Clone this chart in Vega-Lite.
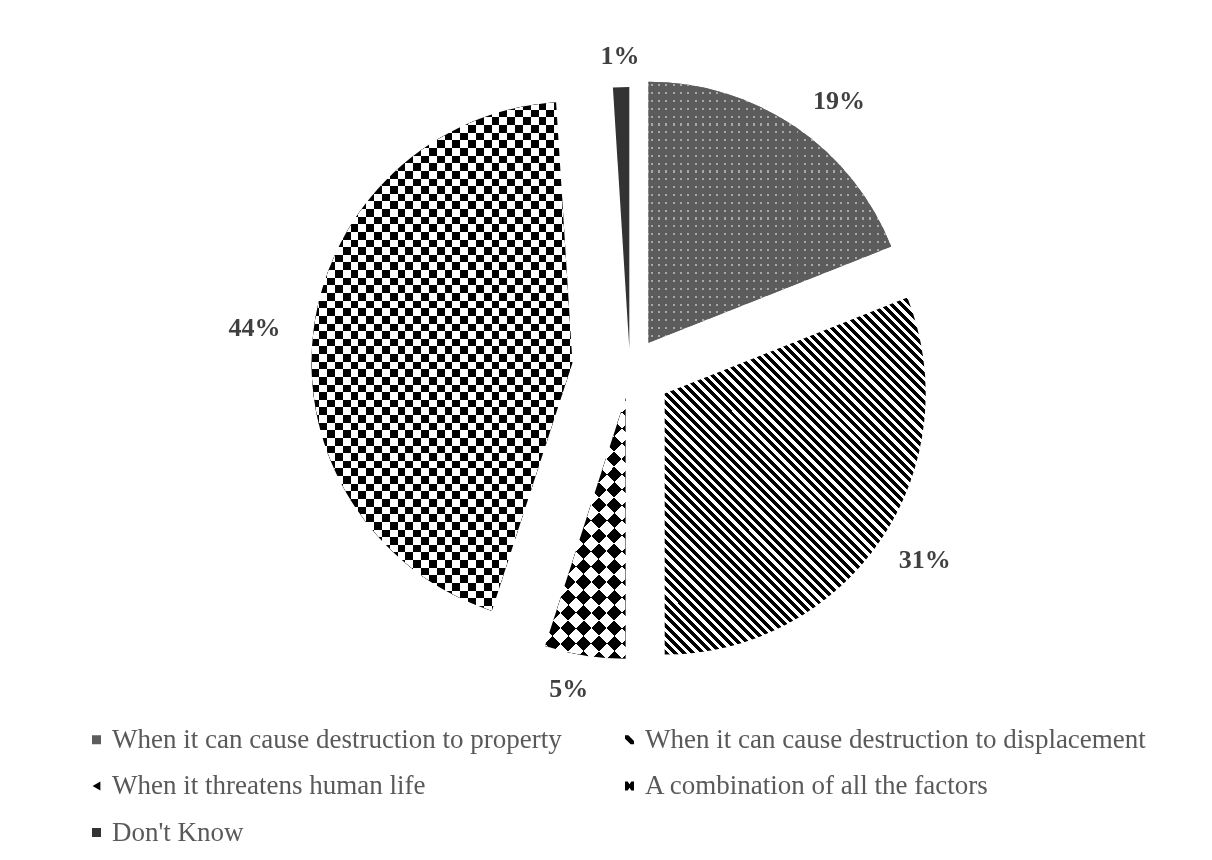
{
  "$schema": "https://vega.github.io/schema/vega-lite/v6.json",
  "width": 1203,
  "height": 849,
  "autosize": {"type": "none"},
  "padding": {"left": 9, "top": 11, "right": 0, "bottom": 0},
  "background": "#ffffff",
  "config": {"view": {"stroke": "#d9d9d9", "strokeWidth": 2, "strokeDash": [1203, 2052, 849]}},
  "data": {
    "values": [
      {"k": 1, "label": "When it can cause destruction to property", "share": 0.19},
      {"k": 2, "label": "When it can cause destruction to displacement", "share": 0.31},
      {"k": 3, "label": "When it threatens human life", "share": 0.05},
      {"k": 4, "label": "A combination of all the factors", "share": 0.44},
      {"k": 5, "label": "Don't Know", "share": 0.01}
    ]
  },
  "transform": [
    {"stack": "share", "groupby": [], "sort": [{"field": "k", "order": "ascending"}], "as": ["t0", "t1"]}
  ],
  "layer": [
    {
      "encoding": {
        "theta": {"field": "t0", "type": "quantitative", "scale": {"domain": [0, 1]}},
        "theta2": {"field": "t1"},
        "fill": {
          "field": "label",
          "type": "nominal",
          "scale": {
            "domain": ["When it can cause destruction to property", "When it can cause destruction to displacement", "When it threatens human life", "A combination of all the factors", "Don't Know"],
            "range": ["#5c5c5c", "#000000", "#000000", "#000000", "#333333"]
          },
          "legend": {
            "title": null,
            "orient": "none",
            "direction": "horizontal",
            "legendX": 74,
            "legendY": 715,
            "columns": 2,
            "columnPadding": 54,
            "rowPadding": 18.5,
            "padding": 0,
            "symbolType": "square",
            "symbolSize": 81,
            "symbolStrokeWidth": 0,
            "symbolOpacity": 1,
            "labelFont": "Liberation Serif",
            "labelFontSize": 27,
            "labelColor": "#595959",
            "labelOffset": 2,
            "labelLimit": 1000,
            "encode": {
              "symbols": {
                "update": {
                  "shape": {"signal": "datum.value === 'When it can cause destruction to displacement' ? 'M-1,-1L-0.25,-1L1,0.25L1,1L0.25,1L-1,-0.25Z' : datum.value === 'When it threatens human life' ? 'triangle-left' : datum.value === 'A combination of all the factors' ? 'M-1,-1L-0.4,-1L0,-0.4L0.4,-1L1,-1L1,1L0.4,1L0,0.4L-0.4,1L-1,1Z' : 'square'"}
                }
              }
            }
          }
        }
      },
      "layer": [
        {
          "transform": [{"filter": "datum.k === 1"}],
          "mark": {"type": "arc", "radius": 261, "xOffset": 38, "yOffset": -92.8}
        },
        {
          "transform": [{"filter": "datum.k === 1"}],
          "mark": {"type": "arc", "radius": 261, "xOffset": 38, "yOffset": -92.8},
          "encoding": {
            "fill": {"value": {"gradient": "linear", "x1": 0, "y1": 0, "x2": 1, "y2": 0, "stops": [
              {"offset": 0, "color": "transparent"},
              {"offset": 0.01, "color": "transparent"}, {"offset": 0.01, "color": "#a8a8a8"}, {"offset": 0.018, "color": "#a8a8a8"}, {"offset": 0.018, "color": "transparent"},
              {"offset": 0.04, "color": "transparent"}, {"offset": 0.04, "color": "#a8a8a8"}, {"offset": 0.048, "color": "#a8a8a8"}, {"offset": 0.048, "color": "transparent"},
              {"offset": 0.07, "color": "transparent"}, {"offset": 0.07, "color": "#a8a8a8"}, {"offset": 0.078, "color": "#a8a8a8"}, {"offset": 0.078, "color": "transparent"},
              {"offset": 0.1, "color": "transparent"}, {"offset": 0.1, "color": "#a8a8a8"}, {"offset": 0.108, "color": "#a8a8a8"}, {"offset": 0.108, "color": "transparent"},
              {"offset": 0.13, "color": "transparent"}, {"offset": 0.13, "color": "#a8a8a8"}, {"offset": 0.138, "color": "#a8a8a8"}, {"offset": 0.138, "color": "transparent"},
              {"offset": 0.16, "color": "transparent"}, {"offset": 0.16, "color": "#a8a8a8"}, {"offset": 0.168, "color": "#a8a8a8"}, {"offset": 0.168, "color": "transparent"},
              {"offset": 0.19, "color": "transparent"}, {"offset": 0.19, "color": "#a8a8a8"}, {"offset": 0.198, "color": "#a8a8a8"}, {"offset": 0.198, "color": "transparent"},
              {"offset": 0.22, "color": "transparent"}, {"offset": 0.22, "color": "#a8a8a8"}, {"offset": 0.228, "color": "#a8a8a8"}, {"offset": 0.228, "color": "transparent"},
              {"offset": 0.25, "color": "transparent"}, {"offset": 0.25, "color": "#a8a8a8"}, {"offset": 0.258, "color": "#a8a8a8"}, {"offset": 0.258, "color": "transparent"},
              {"offset": 0.28, "color": "transparent"}, {"offset": 0.28, "color": "#a8a8a8"}, {"offset": 0.288, "color": "#a8a8a8"}, {"offset": 0.288, "color": "transparent"},
              {"offset": 0.31, "color": "transparent"}, {"offset": 0.31, "color": "#a8a8a8"}, {"offset": 0.318, "color": "#a8a8a8"}, {"offset": 0.318, "color": "transparent"},
              {"offset": 0.34, "color": "transparent"}, {"offset": 0.34, "color": "#a8a8a8"}, {"offset": 0.348, "color": "#a8a8a8"}, {"offset": 0.348, "color": "transparent"},
              {"offset": 0.37, "color": "transparent"}, {"offset": 0.37, "color": "#a8a8a8"}, {"offset": 0.378, "color": "#a8a8a8"}, {"offset": 0.378, "color": "transparent"},
              {"offset": 0.4, "color": "transparent"}, {"offset": 0.4, "color": "#a8a8a8"}, {"offset": 0.408, "color": "#a8a8a8"}, {"offset": 0.408, "color": "transparent"},
              {"offset": 0.43, "color": "transparent"}, {"offset": 0.43, "color": "#a8a8a8"}, {"offset": 0.438, "color": "#a8a8a8"}, {"offset": 0.438, "color": "transparent"},
              {"offset": 0.46, "color": "transparent"}, {"offset": 0.46, "color": "#a8a8a8"}, {"offset": 0.468, "color": "#a8a8a8"}, {"offset": 0.468, "color": "transparent"},
              {"offset": 0.49, "color": "transparent"}, {"offset": 0.49, "color": "#a8a8a8"}, {"offset": 0.498, "color": "#a8a8a8"}, {"offset": 0.498, "color": "transparent"},
              {"offset": 0.52, "color": "transparent"}, {"offset": 0.52, "color": "#a8a8a8"}, {"offset": 0.528, "color": "#a8a8a8"}, {"offset": 0.528, "color": "transparent"},
              {"offset": 0.55, "color": "transparent"}, {"offset": 0.55, "color": "#a8a8a8"}, {"offset": 0.558, "color": "#a8a8a8"}, {"offset": 0.558, "color": "transparent"},
              {"offset": 0.58, "color": "transparent"}, {"offset": 0.58, "color": "#a8a8a8"}, {"offset": 0.588, "color": "#a8a8a8"}, {"offset": 0.588, "color": "transparent"},
              {"offset": 0.61, "color": "transparent"}, {"offset": 0.61, "color": "#a8a8a8"}, {"offset": 0.618, "color": "#a8a8a8"}, {"offset": 0.618, "color": "transparent"},
              {"offset": 0.64, "color": "transparent"}, {"offset": 0.64, "color": "#a8a8a8"}, {"offset": 0.648, "color": "#a8a8a8"}, {"offset": 0.648, "color": "transparent"},
              {"offset": 0.67, "color": "transparent"}, {"offset": 0.67, "color": "#a8a8a8"}, {"offset": 0.678, "color": "#a8a8a8"}, {"offset": 0.678, "color": "transparent"},
              {"offset": 0.7, "color": "transparent"}, {"offset": 0.7, "color": "#a8a8a8"}, {"offset": 0.708, "color": "#a8a8a8"}, {"offset": 0.708, "color": "transparent"},
              {"offset": 0.73, "color": "transparent"}, {"offset": 0.73, "color": "#a8a8a8"}, {"offset": 0.738, "color": "#a8a8a8"}, {"offset": 0.738, "color": "transparent"},
              {"offset": 0.76, "color": "transparent"}, {"offset": 0.76, "color": "#a8a8a8"}, {"offset": 0.768, "color": "#a8a8a8"}, {"offset": 0.768, "color": "transparent"},
              {"offset": 0.79, "color": "transparent"}, {"offset": 0.79, "color": "#a8a8a8"}, {"offset": 0.798, "color": "#a8a8a8"}, {"offset": 0.798, "color": "transparent"},
              {"offset": 0.82, "color": "transparent"}, {"offset": 0.82, "color": "#a8a8a8"}, {"offset": 0.828, "color": "#a8a8a8"}, {"offset": 0.828, "color": "transparent"},
              {"offset": 0.85, "color": "transparent"}, {"offset": 0.85, "color": "#a8a8a8"}, {"offset": 0.858, "color": "#a8a8a8"}, {"offset": 0.858, "color": "transparent"},
              {"offset": 0.88, "color": "transparent"}, {"offset": 0.88, "color": "#a8a8a8"}, {"offset": 0.888, "color": "#a8a8a8"}, {"offset": 0.888, "color": "transparent"},
              {"offset": 0.91, "color": "transparent"}, {"offset": 0.91, "color": "#a8a8a8"}, {"offset": 0.918, "color": "#a8a8a8"}, {"offset": 0.918, "color": "transparent"},
              {"offset": 0.94, "color": "transparent"}, {"offset": 0.94, "color": "#a8a8a8"}, {"offset": 0.948, "color": "#a8a8a8"}, {"offset": 0.948, "color": "transparent"},
              {"offset": 0.97, "color": "transparent"}, {"offset": 0.97, "color": "#a8a8a8"}, {"offset": 0.978, "color": "#a8a8a8"}, {"offset": 0.978, "color": "transparent"},
              {"offset": 1, "color": "transparent"}
            ]}}
          }
        },
        {
          "transform": [{"filter": "datum.k === 1"}],
          "mark": {"type": "arc", "radius": 261, "xOffset": 38, "yOffset": -92.8},
          "encoding": {
            "fill": {"value": {"gradient": "linear", "x1": 0, "y1": 0, "x2": 0, "y2": 1, "stops": [
              {"offset": 0, "color": "#5c5c5c"},
              {"offset": 0.01, "color": "#5c5c5c"}, {"offset": 0.01, "color": "transparent"}, {"offset": 0.018, "color": "transparent"}, {"offset": 0.018, "color": "#5c5c5c"},
              {"offset": 0.04, "color": "#5c5c5c"}, {"offset": 0.04, "color": "transparent"}, {"offset": 0.048, "color": "transparent"}, {"offset": 0.048, "color": "#5c5c5c"},
              {"offset": 0.07, "color": "#5c5c5c"}, {"offset": 0.07, "color": "transparent"}, {"offset": 0.078, "color": "transparent"}, {"offset": 0.078, "color": "#5c5c5c"},
              {"offset": 0.1, "color": "#5c5c5c"}, {"offset": 0.1, "color": "transparent"}, {"offset": 0.108, "color": "transparent"}, {"offset": 0.108, "color": "#5c5c5c"},
              {"offset": 0.13, "color": "#5c5c5c"}, {"offset": 0.13, "color": "transparent"}, {"offset": 0.138, "color": "transparent"}, {"offset": 0.138, "color": "#5c5c5c"},
              {"offset": 0.16, "color": "#5c5c5c"}, {"offset": 0.16, "color": "transparent"}, {"offset": 0.168, "color": "transparent"}, {"offset": 0.168, "color": "#5c5c5c"},
              {"offset": 0.19, "color": "#5c5c5c"}, {"offset": 0.19, "color": "transparent"}, {"offset": 0.198, "color": "transparent"}, {"offset": 0.198, "color": "#5c5c5c"},
              {"offset": 0.22, "color": "#5c5c5c"}, {"offset": 0.22, "color": "transparent"}, {"offset": 0.228, "color": "transparent"}, {"offset": 0.228, "color": "#5c5c5c"},
              {"offset": 0.25, "color": "#5c5c5c"}, {"offset": 0.25, "color": "transparent"}, {"offset": 0.258, "color": "transparent"}, {"offset": 0.258, "color": "#5c5c5c"},
              {"offset": 0.28, "color": "#5c5c5c"}, {"offset": 0.28, "color": "transparent"}, {"offset": 0.288, "color": "transparent"}, {"offset": 0.288, "color": "#5c5c5c"},
              {"offset": 0.31, "color": "#5c5c5c"}, {"offset": 0.31, "color": "transparent"}, {"offset": 0.318, "color": "transparent"}, {"offset": 0.318, "color": "#5c5c5c"},
              {"offset": 0.34, "color": "#5c5c5c"}, {"offset": 0.34, "color": "transparent"}, {"offset": 0.348, "color": "transparent"}, {"offset": 0.348, "color": "#5c5c5c"},
              {"offset": 0.37, "color": "#5c5c5c"}, {"offset": 0.37, "color": "transparent"}, {"offset": 0.378, "color": "transparent"}, {"offset": 0.378, "color": "#5c5c5c"},
              {"offset": 0.4, "color": "#5c5c5c"}, {"offset": 0.4, "color": "transparent"}, {"offset": 0.408, "color": "transparent"}, {"offset": 0.408, "color": "#5c5c5c"},
              {"offset": 0.43, "color": "#5c5c5c"}, {"offset": 0.43, "color": "transparent"}, {"offset": 0.438, "color": "transparent"}, {"offset": 0.438, "color": "#5c5c5c"},
              {"offset": 0.46, "color": "#5c5c5c"}, {"offset": 0.46, "color": "transparent"}, {"offset": 0.468, "color": "transparent"}, {"offset": 0.468, "color": "#5c5c5c"},
              {"offset": 0.49, "color": "#5c5c5c"}, {"offset": 0.49, "color": "transparent"}, {"offset": 0.498, "color": "transparent"}, {"offset": 0.498, "color": "#5c5c5c"},
              {"offset": 0.52, "color": "#5c5c5c"}, {"offset": 0.52, "color": "transparent"}, {"offset": 0.528, "color": "transparent"}, {"offset": 0.528, "color": "#5c5c5c"},
              {"offset": 0.55, "color": "#5c5c5c"}, {"offset": 0.55, "color": "transparent"}, {"offset": 0.558, "color": "transparent"}, {"offset": 0.558, "color": "#5c5c5c"},
              {"offset": 0.58, "color": "#5c5c5c"}, {"offset": 0.58, "color": "transparent"}, {"offset": 0.588, "color": "transparent"}, {"offset": 0.588, "color": "#5c5c5c"},
              {"offset": 0.61, "color": "#5c5c5c"}, {"offset": 0.61, "color": "transparent"}, {"offset": 0.618, "color": "transparent"}, {"offset": 0.618, "color": "#5c5c5c"},
              {"offset": 0.64, "color": "#5c5c5c"}, {"offset": 0.64, "color": "transparent"}, {"offset": 0.648, "color": "transparent"}, {"offset": 0.648, "color": "#5c5c5c"},
              {"offset": 0.67, "color": "#5c5c5c"}, {"offset": 0.67, "color": "transparent"}, {"offset": 0.678, "color": "transparent"}, {"offset": 0.678, "color": "#5c5c5c"},
              {"offset": 0.7, "color": "#5c5c5c"}, {"offset": 0.7, "color": "transparent"}, {"offset": 0.708, "color": "transparent"}, {"offset": 0.708, "color": "#5c5c5c"},
              {"offset": 0.73, "color": "#5c5c5c"}, {"offset": 0.73, "color": "transparent"}, {"offset": 0.738, "color": "transparent"}, {"offset": 0.738, "color": "#5c5c5c"},
              {"offset": 0.76, "color": "#5c5c5c"}, {"offset": 0.76, "color": "transparent"}, {"offset": 0.768, "color": "transparent"}, {"offset": 0.768, "color": "#5c5c5c"},
              {"offset": 0.79, "color": "#5c5c5c"}, {"offset": 0.79, "color": "transparent"}, {"offset": 0.798, "color": "transparent"}, {"offset": 0.798, "color": "#5c5c5c"},
              {"offset": 0.82, "color": "#5c5c5c"}, {"offset": 0.82, "color": "transparent"}, {"offset": 0.828, "color": "transparent"}, {"offset": 0.828, "color": "#5c5c5c"},
              {"offset": 0.85, "color": "#5c5c5c"}, {"offset": 0.85, "color": "transparent"}, {"offset": 0.858, "color": "transparent"}, {"offset": 0.858, "color": "#5c5c5c"},
              {"offset": 0.88, "color": "#5c5c5c"}, {"offset": 0.88, "color": "transparent"}, {"offset": 0.888, "color": "transparent"}, {"offset": 0.888, "color": "#5c5c5c"},
              {"offset": 0.91, "color": "#5c5c5c"}, {"offset": 0.91, "color": "transparent"}, {"offset": 0.918, "color": "transparent"}, {"offset": 0.918, "color": "#5c5c5c"},
              {"offset": 0.94, "color": "#5c5c5c"}, {"offset": 0.94, "color": "transparent"}, {"offset": 0.948, "color": "transparent"}, {"offset": 0.948, "color": "#5c5c5c"},
              {"offset": 0.97, "color": "#5c5c5c"}, {"offset": 0.97, "color": "transparent"}, {"offset": 0.978, "color": "transparent"}, {"offset": 0.978, "color": "#5c5c5c"},
              {"offset": 1, "color": "#5c5c5c"}
            ]}}
          }
        },
        {
          "transform": [{"filter": "datum.k === 2"}],
          "mark": {"type": "arc", "radius": 261, "xOffset": 54.2, "yOffset": -41.9},
          "encoding": {
            "fill": {"value": {"gradient": "linear", "x1": 0, "y1": 1, "x2": 0.8248, "y2": -0.128, "stops": [
              {"offset": 0, "color": "#000"}, {"offset": 0.008, "color": "#000"}, {"offset": 0.008, "color": "#fff"}, {"offset": 0.015, "color": "#fff"},
              {"offset": 0.015, "color": "#000"}, {"offset": 0.023, "color": "#000"}, {"offset": 0.023, "color": "#fff"}, {"offset": 0.03, "color": "#fff"},
              {"offset": 0.03, "color": "#000"}, {"offset": 0.038, "color": "#000"}, {"offset": 0.038, "color": "#fff"}, {"offset": 0.045, "color": "#fff"},
              {"offset": 0.045, "color": "#000"}, {"offset": 0.053, "color": "#000"}, {"offset": 0.053, "color": "#fff"}, {"offset": 0.06, "color": "#fff"},
              {"offset": 0.06, "color": "#000"}, {"offset": 0.068, "color": "#000"}, {"offset": 0.068, "color": "#fff"}, {"offset": 0.075, "color": "#fff"},
              {"offset": 0.075, "color": "#000"}, {"offset": 0.083, "color": "#000"}, {"offset": 0.083, "color": "#fff"}, {"offset": 0.09, "color": "#fff"},
              {"offset": 0.09, "color": "#000"}, {"offset": 0.098, "color": "#000"}, {"offset": 0.098, "color": "#fff"}, {"offset": 0.105, "color": "#fff"},
              {"offset": 0.105, "color": "#000"}, {"offset": 0.113, "color": "#000"}, {"offset": 0.113, "color": "#fff"}, {"offset": 0.12, "color": "#fff"},
              {"offset": 0.12, "color": "#000"}, {"offset": 0.128, "color": "#000"}, {"offset": 0.128, "color": "#fff"}, {"offset": 0.135, "color": "#fff"},
              {"offset": 0.135, "color": "#000"}, {"offset": 0.143, "color": "#000"}, {"offset": 0.143, "color": "#fff"}, {"offset": 0.15, "color": "#fff"},
              {"offset": 0.15, "color": "#000"}, {"offset": 0.158, "color": "#000"}, {"offset": 0.158, "color": "#fff"}, {"offset": 0.165, "color": "#fff"},
              {"offset": 0.165, "color": "#000"}, {"offset": 0.173, "color": "#000"}, {"offset": 0.173, "color": "#fff"}, {"offset": 0.18, "color": "#fff"},
              {"offset": 0.18, "color": "#000"}, {"offset": 0.188, "color": "#000"}, {"offset": 0.188, "color": "#fff"}, {"offset": 0.195, "color": "#fff"},
              {"offset": 0.195, "color": "#000"}, {"offset": 0.203, "color": "#000"}, {"offset": 0.203, "color": "#fff"}, {"offset": 0.21, "color": "#fff"},
              {"offset": 0.21, "color": "#000"}, {"offset": 0.218, "color": "#000"}, {"offset": 0.218, "color": "#fff"}, {"offset": 0.225, "color": "#fff"},
              {"offset": 0.225, "color": "#000"}, {"offset": 0.233, "color": "#000"}, {"offset": 0.233, "color": "#fff"}, {"offset": 0.24, "color": "#fff"},
              {"offset": 0.24, "color": "#000"}, {"offset": 0.248, "color": "#000"}, {"offset": 0.248, "color": "#fff"}, {"offset": 0.255, "color": "#fff"},
              {"offset": 0.255, "color": "#000"}, {"offset": 0.263, "color": "#000"}, {"offset": 0.263, "color": "#fff"}, {"offset": 0.27, "color": "#fff"},
              {"offset": 0.27, "color": "#000"}, {"offset": 0.278, "color": "#000"}, {"offset": 0.278, "color": "#fff"}, {"offset": 0.285, "color": "#fff"},
              {"offset": 0.285, "color": "#000"}, {"offset": 0.293, "color": "#000"}, {"offset": 0.293, "color": "#fff"}, {"offset": 0.3, "color": "#fff"},
              {"offset": 0.3, "color": "#000"}, {"offset": 0.308, "color": "#000"}, {"offset": 0.308, "color": "#fff"}, {"offset": 0.315, "color": "#fff"},
              {"offset": 0.315, "color": "#000"}, {"offset": 0.323, "color": "#000"}, {"offset": 0.323, "color": "#fff"}, {"offset": 0.33, "color": "#fff"},
              {"offset": 0.33, "color": "#000"}, {"offset": 0.338, "color": "#000"}, {"offset": 0.338, "color": "#fff"}, {"offset": 0.345, "color": "#fff"},
              {"offset": 0.345, "color": "#000"}, {"offset": 0.353, "color": "#000"}, {"offset": 0.353, "color": "#fff"}, {"offset": 0.36, "color": "#fff"},
              {"offset": 0.36, "color": "#000"}, {"offset": 0.368, "color": "#000"}, {"offset": 0.368, "color": "#fff"}, {"offset": 0.375, "color": "#fff"},
              {"offset": 0.375, "color": "#000"}, {"offset": 0.383, "color": "#000"}, {"offset": 0.383, "color": "#fff"}, {"offset": 0.39, "color": "#fff"},
              {"offset": 0.39, "color": "#000"}, {"offset": 0.398, "color": "#000"}, {"offset": 0.398, "color": "#fff"}, {"offset": 0.405, "color": "#fff"},
              {"offset": 0.405, "color": "#000"}, {"offset": 0.413, "color": "#000"}, {"offset": 0.413, "color": "#fff"}, {"offset": 0.42, "color": "#fff"},
              {"offset": 0.42, "color": "#000"}, {"offset": 0.428, "color": "#000"}, {"offset": 0.428, "color": "#fff"}, {"offset": 0.435, "color": "#fff"},
              {"offset": 0.435, "color": "#000"}, {"offset": 0.443, "color": "#000"}, {"offset": 0.443, "color": "#fff"}, {"offset": 0.45, "color": "#fff"},
              {"offset": 0.45, "color": "#000"}, {"offset": 0.458, "color": "#000"}, {"offset": 0.458, "color": "#fff"}, {"offset": 0.465, "color": "#fff"},
              {"offset": 0.465, "color": "#000"}, {"offset": 0.473, "color": "#000"}, {"offset": 0.473, "color": "#fff"}, {"offset": 0.48, "color": "#fff"},
              {"offset": 0.48, "color": "#000"}, {"offset": 0.488, "color": "#000"}, {"offset": 0.488, "color": "#fff"}, {"offset": 0.495, "color": "#fff"},
              {"offset": 0.495, "color": "#000"}, {"offset": 0.503, "color": "#000"}, {"offset": 0.503, "color": "#fff"}, {"offset": 0.51, "color": "#fff"},
              {"offset": 0.51, "color": "#000"}, {"offset": 0.518, "color": "#000"}, {"offset": 0.518, "color": "#fff"}, {"offset": 0.525, "color": "#fff"},
              {"offset": 0.525, "color": "#000"}, {"offset": 0.533, "color": "#000"}, {"offset": 0.533, "color": "#fff"}, {"offset": 0.54, "color": "#fff"},
              {"offset": 0.54, "color": "#000"}, {"offset": 0.548, "color": "#000"}, {"offset": 0.548, "color": "#fff"}, {"offset": 0.555, "color": "#fff"},
              {"offset": 0.555, "color": "#000"}, {"offset": 0.563, "color": "#000"}, {"offset": 0.563, "color": "#fff"}, {"offset": 0.57, "color": "#fff"},
              {"offset": 0.57, "color": "#000"}, {"offset": 0.578, "color": "#000"}, {"offset": 0.578, "color": "#fff"}, {"offset": 0.585, "color": "#fff"},
              {"offset": 0.585, "color": "#000"}, {"offset": 0.593, "color": "#000"}, {"offset": 0.593, "color": "#fff"}, {"offset": 0.6, "color": "#fff"},
              {"offset": 0.6, "color": "#000"}, {"offset": 0.608, "color": "#000"}, {"offset": 0.608, "color": "#fff"}, {"offset": 0.615, "color": "#fff"},
              {"offset": 0.615, "color": "#000"}, {"offset": 0.623, "color": "#000"}, {"offset": 0.623, "color": "#fff"}, {"offset": 0.63, "color": "#fff"},
              {"offset": 0.63, "color": "#000"}, {"offset": 0.638, "color": "#000"}, {"offset": 0.638, "color": "#fff"}, {"offset": 0.645, "color": "#fff"},
              {"offset": 0.645, "color": "#000"}, {"offset": 0.653, "color": "#000"}, {"offset": 0.653, "color": "#fff"}, {"offset": 0.66, "color": "#fff"},
              {"offset": 0.66, "color": "#000"}, {"offset": 0.668, "color": "#000"}, {"offset": 0.668, "color": "#fff"}, {"offset": 0.675, "color": "#fff"},
              {"offset": 0.675, "color": "#000"}, {"offset": 0.683, "color": "#000"}, {"offset": 0.683, "color": "#fff"}, {"offset": 0.69, "color": "#fff"},
              {"offset": 0.69, "color": "#000"}, {"offset": 0.698, "color": "#000"}, {"offset": 0.698, "color": "#fff"}, {"offset": 0.705, "color": "#fff"},
              {"offset": 0.705, "color": "#000"}, {"offset": 0.713, "color": "#000"}, {"offset": 0.713, "color": "#fff"}, {"offset": 0.72, "color": "#fff"},
              {"offset": 0.72, "color": "#000"}, {"offset": 0.728, "color": "#000"}, {"offset": 0.728, "color": "#fff"}, {"offset": 0.735, "color": "#fff"},
              {"offset": 0.735, "color": "#000"}, {"offset": 0.743, "color": "#000"}, {"offset": 0.743, "color": "#fff"}, {"offset": 0.75, "color": "#fff"},
              {"offset": 0.75, "color": "#000"}, {"offset": 0.758, "color": "#000"}, {"offset": 0.758, "color": "#fff"}, {"offset": 0.765, "color": "#fff"},
              {"offset": 0.765, "color": "#000"}, {"offset": 0.773, "color": "#000"}, {"offset": 0.773, "color": "#fff"}, {"offset": 0.78, "color": "#fff"},
              {"offset": 0.78, "color": "#000"}, {"offset": 0.788, "color": "#000"}, {"offset": 0.788, "color": "#fff"}, {"offset": 0.795, "color": "#fff"},
              {"offset": 0.795, "color": "#000"}, {"offset": 0.803, "color": "#000"}, {"offset": 0.803, "color": "#fff"}, {"offset": 0.81, "color": "#fff"},
              {"offset": 0.81, "color": "#000"}, {"offset": 0.818, "color": "#000"}, {"offset": 0.818, "color": "#fff"}, {"offset": 0.825, "color": "#fff"},
              {"offset": 0.825, "color": "#000"}, {"offset": 0.833, "color": "#000"}, {"offset": 0.833, "color": "#fff"}, {"offset": 0.84, "color": "#fff"},
              {"offset": 0.84, "color": "#000"}, {"offset": 0.848, "color": "#000"}, {"offset": 0.848, "color": "#fff"}, {"offset": 0.855, "color": "#fff"},
              {"offset": 0.855, "color": "#000"}, {"offset": 0.863, "color": "#000"}, {"offset": 0.863, "color": "#fff"}, {"offset": 0.87, "color": "#fff"},
              {"offset": 0.87, "color": "#000"}, {"offset": 0.878, "color": "#000"}, {"offset": 0.878, "color": "#fff"}, {"offset": 0.885, "color": "#fff"},
              {"offset": 0.885, "color": "#000"}, {"offset": 0.893, "color": "#000"}, {"offset": 0.893, "color": "#fff"}, {"offset": 0.9, "color": "#fff"},
              {"offset": 0.9, "color": "#000"}, {"offset": 0.908, "color": "#000"}, {"offset": 0.908, "color": "#fff"}, {"offset": 0.915, "color": "#fff"},
              {"offset": 0.915, "color": "#000"}, {"offset": 0.923, "color": "#000"}, {"offset": 0.923, "color": "#fff"}, {"offset": 0.93, "color": "#fff"},
              {"offset": 0.93, "color": "#000"}, {"offset": 0.938, "color": "#000"}, {"offset": 0.938, "color": "#fff"}, {"offset": 0.945, "color": "#fff"},
              {"offset": 0.945, "color": "#000"}, {"offset": 0.953, "color": "#000"}, {"offset": 0.953, "color": "#fff"}, {"offset": 0.96, "color": "#fff"},
              {"offset": 0.96, "color": "#000"}, {"offset": 0.968, "color": "#000"}, {"offset": 0.968, "color": "#fff"}, {"offset": 0.975, "color": "#fff"},
              {"offset": 0.975, "color": "#000"}, {"offset": 0.983, "color": "#000"}, {"offset": 0.983, "color": "#fff"}, {"offset": 0.99, "color": "#fff"},
              {"offset": 0.99, "color": "#000"}, {"offset": 0.998, "color": "#000"}, {"offset": 0.998, "color": "#fff"}, {"offset": 1, "color": "#fff"}
            ]}}
          }
        },
        {
          "transform": [{"filter": "datum.k === 3"}],
          "mark": {"type": "arc", "radius": 261, "xOffset": 15.1, "yOffset": -37.8},
          "encoding": {
            "fill": {"value": {"gradient": "linear", "x1": 0, "y1": 1, "x2": 0.3695, "y2": -0.195, "stops": [
              {"offset": 0, "color": "#000"}, {"offset": 0.045, "color": "#000"}, {"offset": 0.045, "color": "#fff"}, {"offset": 0.09, "color": "#fff"},
              {"offset": 0.09, "color": "#000"}, {"offset": 0.135, "color": "#000"}, {"offset": 0.135, "color": "#fff"}, {"offset": 0.18, "color": "#fff"},
              {"offset": 0.18, "color": "#000"}, {"offset": 0.225, "color": "#000"}, {"offset": 0.225, "color": "#fff"}, {"offset": 0.27, "color": "#fff"},
              {"offset": 0.27, "color": "#000"}, {"offset": 0.315, "color": "#000"}, {"offset": 0.315, "color": "#fff"}, {"offset": 0.36, "color": "#fff"},
              {"offset": 0.36, "color": "#000"}, {"offset": 0.405, "color": "#000"}, {"offset": 0.405, "color": "#fff"}, {"offset": 0.45, "color": "#fff"},
              {"offset": 0.45, "color": "#000"}, {"offset": 0.495, "color": "#000"}, {"offset": 0.495, "color": "#fff"}, {"offset": 0.54, "color": "#fff"},
              {"offset": 0.54, "color": "#000"}, {"offset": 0.585, "color": "#000"}, {"offset": 0.585, "color": "#fff"}, {"offset": 0.63, "color": "#fff"},
              {"offset": 0.63, "color": "#000"}, {"offset": 0.675, "color": "#000"}, {"offset": 0.675, "color": "#fff"}, {"offset": 0.72, "color": "#fff"},
              {"offset": 0.72, "color": "#000"}, {"offset": 0.765, "color": "#000"}, {"offset": 0.765, "color": "#fff"}, {"offset": 0.81, "color": "#fff"},
              {"offset": 0.81, "color": "#000"}, {"offset": 0.855, "color": "#000"}, {"offset": 0.855, "color": "#fff"}, {"offset": 0.9, "color": "#fff"},
              {"offset": 0.9, "color": "#000"}, {"offset": 0.945, "color": "#000"}, {"offset": 0.945, "color": "#fff"}, {"offset": 0.99, "color": "#fff"},
              {"offset": 0.99, "color": "#000"}, {"offset": 1, "color": "#000"}
            ]}}
          }
        },
        {
          "transform": [{"filter": "datum.k === 3"}],
          "mark": {"type": "arc", "radius": 261, "xOffset": 15.1, "yOffset": -37.8, "blend": "difference"},
          "encoding": {
            "fill": {"value": {"gradient": "linear", "x1": 0, "y1": 0, "x2": 0.3695, "y2": 1.195, "stops": [
              {"offset": 0, "color": "#fff"}, {"offset": 0.045, "color": "#fff"}, {"offset": 0.045, "color": "transparent"}, {"offset": 0.09, "color": "transparent"},
              {"offset": 0.09, "color": "#fff"}, {"offset": 0.135, "color": "#fff"}, {"offset": 0.135, "color": "transparent"}, {"offset": 0.18, "color": "transparent"},
              {"offset": 0.18, "color": "#fff"}, {"offset": 0.225, "color": "#fff"}, {"offset": 0.225, "color": "transparent"}, {"offset": 0.27, "color": "transparent"},
              {"offset": 0.27, "color": "#fff"}, {"offset": 0.315, "color": "#fff"}, {"offset": 0.315, "color": "transparent"}, {"offset": 0.36, "color": "transparent"},
              {"offset": 0.36, "color": "#fff"}, {"offset": 0.405, "color": "#fff"}, {"offset": 0.405, "color": "transparent"}, {"offset": 0.45, "color": "transparent"},
              {"offset": 0.45, "color": "#fff"}, {"offset": 0.495, "color": "#fff"}, {"offset": 0.495, "color": "transparent"}, {"offset": 0.54, "color": "transparent"},
              {"offset": 0.54, "color": "#fff"}, {"offset": 0.585, "color": "#fff"}, {"offset": 0.585, "color": "transparent"}, {"offset": 0.63, "color": "transparent"},
              {"offset": 0.63, "color": "#fff"}, {"offset": 0.675, "color": "#fff"}, {"offset": 0.675, "color": "transparent"}, {"offset": 0.72, "color": "transparent"},
              {"offset": 0.72, "color": "#fff"}, {"offset": 0.765, "color": "#fff"}, {"offset": 0.765, "color": "transparent"}, {"offset": 0.81, "color": "transparent"},
              {"offset": 0.81, "color": "#fff"}, {"offset": 0.855, "color": "#fff"}, {"offset": 0.855, "color": "transparent"}, {"offset": 0.9, "color": "transparent"},
              {"offset": 0.9, "color": "#fff"}, {"offset": 0.945, "color": "#fff"}, {"offset": 0.945, "color": "transparent"}, {"offset": 0.99, "color": "transparent"},
              {"offset": 0.99, "color": "#fff"}, {"offset": 1, "color": "#fff"}
            ]}}
          }
        },
        {
          "transform": [{"filter": "datum.k === 4"}],
          "mark": {"type": "arc", "radius": 261, "xOffset": -38, "yOffset": -72.8},
          "encoding": {
            "fill": {"value": {"gradient": "linear", "x1": 0, "y1": 0, "x2": 1, "y2": 0, "stops": [
              {"offset": 0, "color": "#000"}, {"offset": 0.03, "color": "#000"}, {"offset": 0.03, "color": "#fff"}, {"offset": 0.06, "color": "#fff"},
              {"offset": 0.06, "color": "#000"}, {"offset": 0.09, "color": "#000"}, {"offset": 0.09, "color": "#fff"}, {"offset": 0.12, "color": "#fff"},
              {"offset": 0.12, "color": "#000"}, {"offset": 0.15, "color": "#000"}, {"offset": 0.15, "color": "#fff"}, {"offset": 0.18, "color": "#fff"},
              {"offset": 0.18, "color": "#000"}, {"offset": 0.21, "color": "#000"}, {"offset": 0.21, "color": "#fff"}, {"offset": 0.24, "color": "#fff"},
              {"offset": 0.24, "color": "#000"}, {"offset": 0.27, "color": "#000"}, {"offset": 0.27, "color": "#fff"}, {"offset": 0.3, "color": "#fff"},
              {"offset": 0.3, "color": "#000"}, {"offset": 0.33, "color": "#000"}, {"offset": 0.33, "color": "#fff"}, {"offset": 0.36, "color": "#fff"},
              {"offset": 0.36, "color": "#000"}, {"offset": 0.39, "color": "#000"}, {"offset": 0.39, "color": "#fff"}, {"offset": 0.42, "color": "#fff"},
              {"offset": 0.42, "color": "#000"}, {"offset": 0.45, "color": "#000"}, {"offset": 0.45, "color": "#fff"}, {"offset": 0.48, "color": "#fff"},
              {"offset": 0.48, "color": "#000"}, {"offset": 0.51, "color": "#000"}, {"offset": 0.51, "color": "#fff"}, {"offset": 0.54, "color": "#fff"},
              {"offset": 0.54, "color": "#000"}, {"offset": 0.57, "color": "#000"}, {"offset": 0.57, "color": "#fff"}, {"offset": 0.6, "color": "#fff"},
              {"offset": 0.6, "color": "#000"}, {"offset": 0.63, "color": "#000"}, {"offset": 0.63, "color": "#fff"}, {"offset": 0.66, "color": "#fff"},
              {"offset": 0.66, "color": "#000"}, {"offset": 0.69, "color": "#000"}, {"offset": 0.69, "color": "#fff"}, {"offset": 0.72, "color": "#fff"},
              {"offset": 0.72, "color": "#000"}, {"offset": 0.75, "color": "#000"}, {"offset": 0.75, "color": "#fff"}, {"offset": 0.78, "color": "#fff"},
              {"offset": 0.78, "color": "#000"}, {"offset": 0.81, "color": "#000"}, {"offset": 0.81, "color": "#fff"}, {"offset": 0.84, "color": "#fff"},
              {"offset": 0.84, "color": "#000"}, {"offset": 0.87, "color": "#000"}, {"offset": 0.87, "color": "#fff"}, {"offset": 0.9, "color": "#fff"},
              {"offset": 0.9, "color": "#000"}, {"offset": 0.93, "color": "#000"}, {"offset": 0.93, "color": "#fff"}, {"offset": 0.96, "color": "#fff"},
              {"offset": 0.96, "color": "#000"}, {"offset": 0.99, "color": "#000"}, {"offset": 0.99, "color": "#fff"}, {"offset": 1, "color": "#fff"}
            ]}}
          }
        },
        {
          "transform": [{"filter": "datum.k === 4"}],
          "mark": {"type": "arc", "radius": 261, "xOffset": -38, "yOffset": -72.8, "blend": "difference"},
          "encoding": {
            "fill": {"value": {"gradient": "linear", "x1": 0, "y1": 0, "x2": 0, "y2": 1, "stops": [
              {"offset": 0, "color": "#fff"}, {"offset": 0.015, "color": "#fff"}, {"offset": 0.015, "color": "transparent"}, {"offset": 0.03, "color": "transparent"},
              {"offset": 0.03, "color": "#fff"}, {"offset": 0.045, "color": "#fff"}, {"offset": 0.045, "color": "transparent"}, {"offset": 0.06, "color": "transparent"},
              {"offset": 0.06, "color": "#fff"}, {"offset": 0.075, "color": "#fff"}, {"offset": 0.075, "color": "transparent"}, {"offset": 0.09, "color": "transparent"},
              {"offset": 0.09, "color": "#fff"}, {"offset": 0.105, "color": "#fff"}, {"offset": 0.105, "color": "transparent"}, {"offset": 0.12, "color": "transparent"},
              {"offset": 0.12, "color": "#fff"}, {"offset": 0.135, "color": "#fff"}, {"offset": 0.135, "color": "transparent"}, {"offset": 0.15, "color": "transparent"},
              {"offset": 0.15, "color": "#fff"}, {"offset": 0.165, "color": "#fff"}, {"offset": 0.165, "color": "transparent"}, {"offset": 0.18, "color": "transparent"},
              {"offset": 0.18, "color": "#fff"}, {"offset": 0.195, "color": "#fff"}, {"offset": 0.195, "color": "transparent"}, {"offset": 0.21, "color": "transparent"},
              {"offset": 0.21, "color": "#fff"}, {"offset": 0.225, "color": "#fff"}, {"offset": 0.225, "color": "transparent"}, {"offset": 0.24, "color": "transparent"},
              {"offset": 0.24, "color": "#fff"}, {"offset": 0.255, "color": "#fff"}, {"offset": 0.255, "color": "transparent"}, {"offset": 0.27, "color": "transparent"},
              {"offset": 0.27, "color": "#fff"}, {"offset": 0.285, "color": "#fff"}, {"offset": 0.285, "color": "transparent"}, {"offset": 0.3, "color": "transparent"},
              {"offset": 0.3, "color": "#fff"}, {"offset": 0.315, "color": "#fff"}, {"offset": 0.315, "color": "transparent"}, {"offset": 0.33, "color": "transparent"},
              {"offset": 0.33, "color": "#fff"}, {"offset": 0.345, "color": "#fff"}, {"offset": 0.345, "color": "transparent"}, {"offset": 0.36, "color": "transparent"},
              {"offset": 0.36, "color": "#fff"}, {"offset": 0.375, "color": "#fff"}, {"offset": 0.375, "color": "transparent"}, {"offset": 0.39, "color": "transparent"},
              {"offset": 0.39, "color": "#fff"}, {"offset": 0.405, "color": "#fff"}, {"offset": 0.405, "color": "transparent"}, {"offset": 0.42, "color": "transparent"},
              {"offset": 0.42, "color": "#fff"}, {"offset": 0.435, "color": "#fff"}, {"offset": 0.435, "color": "transparent"}, {"offset": 0.45, "color": "transparent"},
              {"offset": 0.45, "color": "#fff"}, {"offset": 0.465, "color": "#fff"}, {"offset": 0.465, "color": "transparent"}, {"offset": 0.48, "color": "transparent"},
              {"offset": 0.48, "color": "#fff"}, {"offset": 0.495, "color": "#fff"}, {"offset": 0.495, "color": "transparent"}, {"offset": 0.51, "color": "transparent"},
              {"offset": 0.51, "color": "#fff"}, {"offset": 0.525, "color": "#fff"}, {"offset": 0.525, "color": "transparent"}, {"offset": 0.54, "color": "transparent"},
              {"offset": 0.54, "color": "#fff"}, {"offset": 0.555, "color": "#fff"}, {"offset": 0.555, "color": "transparent"}, {"offset": 0.57, "color": "transparent"},
              {"offset": 0.57, "color": "#fff"}, {"offset": 0.585, "color": "#fff"}, {"offset": 0.585, "color": "transparent"}, {"offset": 0.6, "color": "transparent"},
              {"offset": 0.6, "color": "#fff"}, {"offset": 0.615, "color": "#fff"}, {"offset": 0.615, "color": "transparent"}, {"offset": 0.63, "color": "transparent"},
              {"offset": 0.63, "color": "#fff"}, {"offset": 0.645, "color": "#fff"}, {"offset": 0.645, "color": "transparent"}, {"offset": 0.66, "color": "transparent"},
              {"offset": 0.66, "color": "#fff"}, {"offset": 0.675, "color": "#fff"}, {"offset": 0.675, "color": "transparent"}, {"offset": 0.69, "color": "transparent"},
              {"offset": 0.69, "color": "#fff"}, {"offset": 0.705, "color": "#fff"}, {"offset": 0.705, "color": "transparent"}, {"offset": 0.72, "color": "transparent"},
              {"offset": 0.72, "color": "#fff"}, {"offset": 0.735, "color": "#fff"}, {"offset": 0.735, "color": "transparent"}, {"offset": 0.75, "color": "transparent"},
              {"offset": 0.75, "color": "#fff"}, {"offset": 0.765, "color": "#fff"}, {"offset": 0.765, "color": "transparent"}, {"offset": 0.78, "color": "transparent"},
              {"offset": 0.78, "color": "#fff"}, {"offset": 0.795, "color": "#fff"}, {"offset": 0.795, "color": "transparent"}, {"offset": 0.81, "color": "transparent"},
              {"offset": 0.81, "color": "#fff"}, {"offset": 0.825, "color": "#fff"}, {"offset": 0.825, "color": "transparent"}, {"offset": 0.84, "color": "transparent"},
              {"offset": 0.84, "color": "#fff"}, {"offset": 0.855, "color": "#fff"}, {"offset": 0.855, "color": "transparent"}, {"offset": 0.87, "color": "transparent"},
              {"offset": 0.87, "color": "#fff"}, {"offset": 0.885, "color": "#fff"}, {"offset": 0.885, "color": "transparent"}, {"offset": 0.9, "color": "transparent"},
              {"offset": 0.9, "color": "#fff"}, {"offset": 0.915, "color": "#fff"}, {"offset": 0.915, "color": "transparent"}, {"offset": 0.93, "color": "transparent"},
              {"offset": 0.93, "color": "#fff"}, {"offset": 0.945, "color": "#fff"}, {"offset": 0.945, "color": "transparent"}, {"offset": 0.96, "color": "transparent"},
              {"offset": 0.96, "color": "#fff"}, {"offset": 0.975, "color": "#fff"}, {"offset": 0.975, "color": "transparent"}, {"offset": 0.99, "color": "transparent"},
              {"offset": 0.99, "color": "#fff"}, {"offset": 1, "color": "#fff"}
            ]}}
          }
        },
        {
          "transform": [{"filter": "datum.k === 5"}],
          "mark": {"type": "arc", "radius": 261, "xOffset": 18.8, "yOffset": -87.5}
        }
      ]
    },
    {
      "encoding": {
        "theta": {"field": "share", "type": "quantitative", "stack": true, "scale": {"domain": [0, 1]}},
        "order": {"field": "k", "type": "quantitative"},
        "detail": {"field": "label", "type": "nominal"},
        "text": {"field": "share", "type": "quantitative", "format": ".0%"}
      },
      "layer": [
        {
          "mark": {"type": "text", "radius": 308, "xOffset": 38, "yOffset": -92.8, "dx": 17.5, "dy": 20.8, "font": "Liberation Serif", "fontSize": 26, "fontWeight": "bold", "fill": "#404040", "align": "center", "baseline": "alphabetic"},
          "encoding": {"opacity": {"condition": {"test": "datum.k === 1", "value": 1}, "value": 0}}
        },
        {
          "mark": {"type": "text", "radius": 308, "xOffset": 54.2, "yOffset": -41.9, "dx": 5.3, "dy": 1.1, "font": "Liberation Serif", "fontSize": 26, "fontWeight": "bold", "fill": "#404040", "align": "center", "baseline": "alphabetic"},
          "encoding": {"opacity": {"condition": {"test": "datum.k === 2", "value": 1}, "value": 0}}
        },
        {
          "mark": {"type": "text", "radius": 296, "xOffset": 15.1, "yOffset": -37.8, "dx": -10.5, "dy": 7.2, "font": "Liberation Serif", "fontSize": 26, "fontWeight": "bold", "fill": "#404040", "align": "center", "baseline": "alphabetic"},
          "encoding": {"opacity": {"condition": {"test": "datum.k === 3", "value": 1}, "value": 0}}
        },
        {
          "mark": {"type": "text", "radius": 320, "xOffset": -38, "yOffset": -72.8, "dx": -0.6, "dy": 13.2, "font": "Liberation Serif", "fontSize": 26, "fontWeight": "bold", "fill": "#404040", "align": "center", "baseline": "alphabetic"},
          "encoding": {"opacity": {"condition": {"test": "datum.k === 4", "value": 1}, "value": 0}}
        },
        {
          "mark": {"type": "text", "radius": 293, "xOffset": 18.8, "yOffset": -87.5, "dx": -0.2, "dy": 8.9, "font": "Liberation Serif", "fontSize": 26, "fontWeight": "bold", "fill": "#404040", "align": "center", "baseline": "alphabetic"},
          "encoding": {"opacity": {"condition": {"test": "datum.k === 5", "value": 1}, "value": 0}}
        }
      ]
    }
  ]
}
